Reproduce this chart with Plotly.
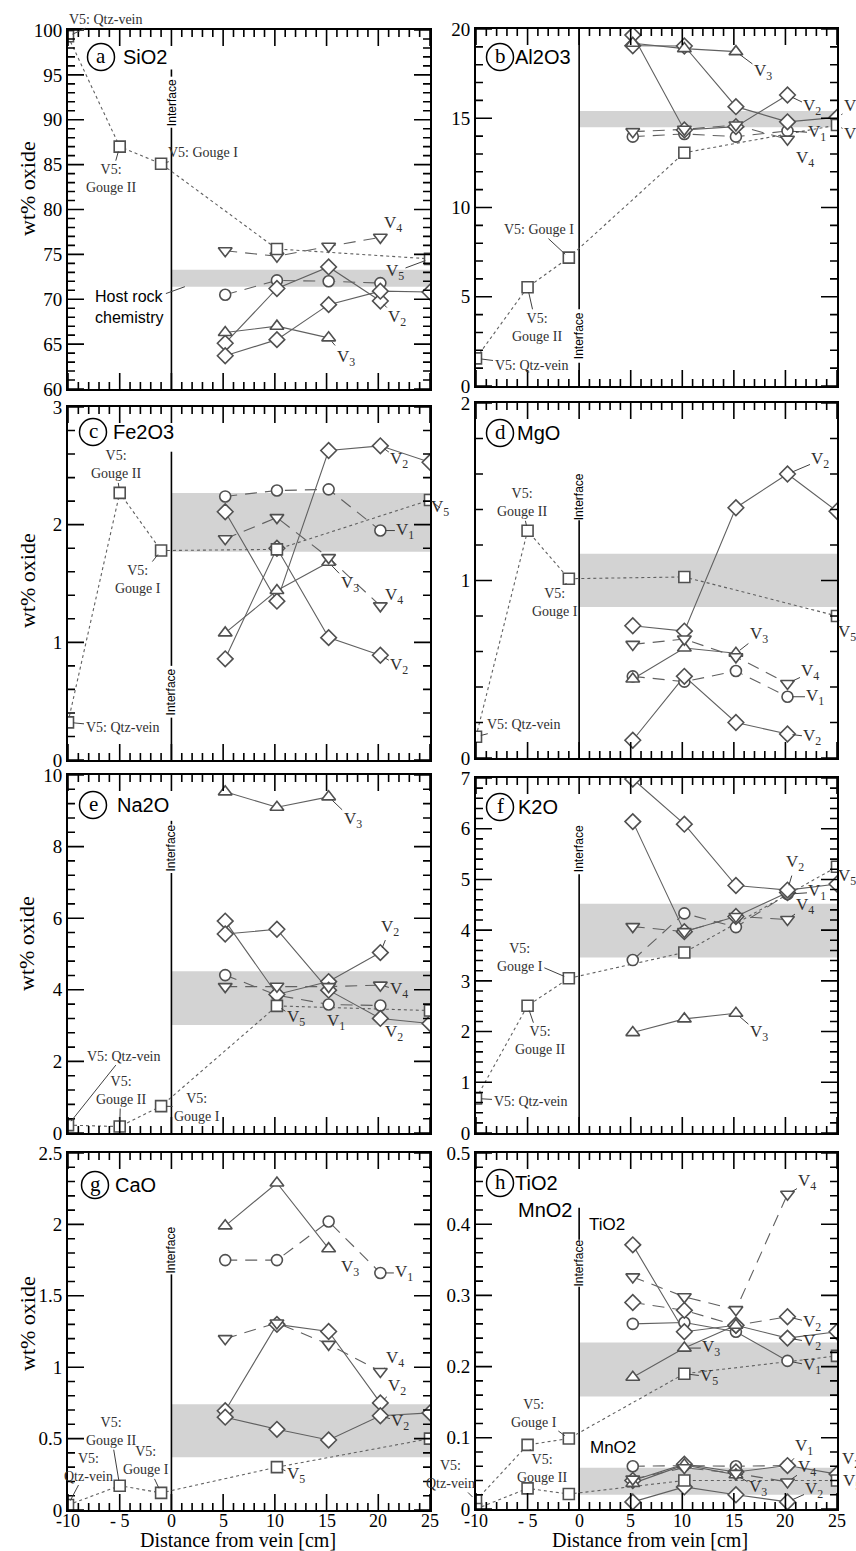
import plotly.graph_objects as go

W, H = 856, 1551

# ---------------- data ----------------
X_WALL = [5.2, 10.2, 15.2, 20.2]
X_WALL_25 = [5.2, 10.2, 15.2, 20.2, 25.0]
X_V3 = [5.2, 10.2, 15.2]
X_V5 = [-10.0, -5.0, -1.0, 10.2, 25.0]
X_TICKS = [-10, -5, 0, 5, 10, 15, 20, 25]
X_TICK_TEXT = ["-10", "- 5", "0", "5", "10", "15", "20", "25"]

# (a) SiO2
SIO2_V1 = [70.5, 72.1, 72.0, 71.8]
SIO2_V2A = [65.1, 71.2, 73.6, 69.8]
SIO2_V2B = [63.7, 65.5, 69.4, 70.9, 70.8]
SIO2_V3 = [66.3, 67.0, 65.7]
SIO2_V4 = [75.4, 74.8, 75.9, 76.9]
SIO2_V5 = [99.3, 87.0, 85.1, 75.6, 74.5]
SIO2_HOST = [71.4, 73.3]

# (b) Al2O3
AL2O3_V1 = [13.97, 14.12, 13.97, 14.29]
AL2O3_V2A = [19.66, 14.34, 14.53, 16.3]
AL2O3_V2B = [19.06, 19.05, 15.65, 14.8, 15.05]
AL2O3_V3 = [19.2, 18.9, 18.73]
AL2O3_V4 = [14.25, 14.38, 14.62, 13.82]
AL2O3_V5 = [1.55, 5.53, 7.19, 13.07, 14.62]
AL2O3_HOST = [14.5, 15.4]

# (c) Fe2O3
FE2O3_V1 = [2.24, 2.29, 2.30, 1.95]
FE2O3_V2A = [0.86, 1.80, 1.04, 0.89]
FE2O3_V2B = [2.11, 1.35, 2.63, 2.67, 2.53]
FE2O3_V3 = [1.08, 1.44, 1.68]
FE2O3_V4 = [1.88, 2.06, 1.72, 1.31]
FE2O3_V5 = [0.32, 2.27, 1.78, 1.79, 2.21]
FE2O3_HOST = [1.77, 2.27]

# (d) MgO
MGO_V1 = [0.46, 0.43, 0.49, 0.345]
MGO_V2A = [0.10, 0.46, 0.20, 0.135]
MGO_V2B = [0.745, 0.715, 1.41, 1.60, 1.39]
MGO_V3 = [0.445, 0.62, 0.59]
MGO_V4 = [0.64, 0.67, 0.57, 0.42]
MGO_V5 = [0.12, 1.28, 1.01, 1.02, 0.80]
MGO_HOST = [0.85, 1.15]

# (e) Na2O
NA2O_V1 = [4.41, 3.85, 3.59, 3.56]
NA2O_V2A = [5.92, 3.87, 4.23, 5.04]
NA2O_V2B = [5.56, 5.69, 3.99, 3.20, 3.06]
NA2O_V3 = [9.53, 9.10, 9.39]
NA2O_V4 = [4.09, 4.10, 4.09, 4.13]
NA2O_V5 = [0.22, 0.18, 0.75, 3.55, 3.42]
NA2O_HOST = [3.02, 4.52]

# (f) K2O
K2O_V1 = [3.41, 4.33, 4.06, 4.71]
K2O_V2A = [6.14, 3.97, 4.27, 4.74]
K2O_V2B = [6.98, 6.09, 4.88, 4.79, 4.91]
K2O_V3 = [1.98, 2.25, 2.36]
K2O_V4 = [4.07, 3.97, 4.27, 4.21]
K2O_V5 = [0.68, 2.51, 3.05, 3.56, 5.25]
K2O_HOST = [3.46, 4.52]

# (g) CaO
CAO_V1 = [1.75, 1.75, 2.02, 1.66]
CAO_V2A = [0.695, 1.30, 1.25, 0.75]
CAO_V2B = [0.65, 0.565, 0.49, 0.66, 0.68]
CAO_V3 = [1.99, 2.29, 1.83]
CAO_V4 = [1.20, 1.31, 1.16, 0.97]
CAO_V5 = [0.035, 0.17, 0.12, 0.30, 0.50]
CAO_HOST = [0.37, 0.74]

# (h) TiO2 and MnO2
TIO2_V1 = [0.26, 0.262, 0.249, 0.208]
TIO2_V2A = [0.29, 0.279, 0.258, 0.27]
TIO2_V2B = [0.371, 0.249, 0.258, 0.24, 0.249]
TIO2_V3 = [0.185, 0.226, 0.258]
TIO2_V4 = [0.326, 0.298, 0.280, 0.442]
TIO2_V5 = [0.012, 0.09, 0.099, 0.19, 0.215]
TIO2_HOST = [0.158, 0.234]

MNO2_V1 = [0.060, 0.061, 0.060, 0.061]
MNO2_V2A = [0.010, 0.031, 0.020, 0.010]
MNO2_V2B = [0.040, 0.063, 0.052, 0.061, 0.049]
MNO2_V3 = [0.036, 0.062, 0.048]
MNO2_V4 = [0.042, 0.058, 0.050, 0.038]
MNO2_V5 = [0.0, 0.029, 0.021, 0.040, 0.040]
MNO2_HOST = [0.020, 0.058]

# ---------------- styling ----------------
MK = "#505050"
LN = "#606060"
TXT = "#303030"
SERIF = "Liberation Serif"
SANS = "Liberation Sans"
MAJOR_LEN, MINOR_LEN, TICK_W = 16, 7, 1.6

STYLE = {
    "V1": dict(symbol="circle", size=11, dash="12px,8px"),
    "V2": dict(symbol="diamond", size=12, dash="solid"),
    "V3": dict(symbol="triangle-up", size=12, dash="solid"),
    "V4": dict(symbol="triangle-down", size=12, dash="12px,8px"),
    "V5": dict(symbol="square", size=11, dash="3px,3px"),
}


def xs_for(key):
    k = key.lstrip("m")
    if k == "V2b":
        return X_WALL_25
    if k == "V3":
        return X_V3
    if k == "V5":
        return X_V5
    return X_WALL


def V(n):
    return f"V<sub>{n}</sub>"


PANELS = [
    dict(tag="a", title="SiO2", col=0, top=30, bottom=389, yr=[60, 100], dt=5, mn=1,
         series=dict(V1=SIO2_V1, V2a=SIO2_V2A, V2b=SIO2_V2B, V3=SIO2_V3, V4=SIO2_V4, V5=SIO2_V5),
         bands=[SIO2_HOST], iface=[(60, 89.1), (94.8, 95.6)], itext=91.9, badge=(33, 27, 22),
         labels=[("V5", 0, "V5: Qtz-vein", 37, -17), ("V5", 1, "V5:<br>Gouge II", -9, 32),
                 ("V5", 2, "V5: Gouge I", 42, -11), ("V4", 3, V(4), 13, -13),
                 ("V5", 4, V(5), -35, 13), ("V2a", 3, V(2), 17, 17), ("V3", 2, V(3), 17, 20)]),
    dict(tag="b", title="Al2O3", col=1, top=29, bottom=386, yr=[0, 20], dt=5, mn=1,
         series=dict(V1=AL2O3_V1, V2a=AL2O3_V2A, V2b=AL2O3_V2B, V3=AL2O3_V3, V4=AL2O3_V4, V5=AL2O3_V5),
         bands=[AL2O3_HOST], iface=[(4.3, 20), (0, 1.3)], itext=2.8, badge=(24, 28, 15),
         labels=[("V3", 2, V(3), 27, 20), ("V2a", 3, V(2), 25, 12), ("V2b", 4, V(2), 16, -10),
                 ("V5", 4, V(5), 16, 10), ("V1", 3, V(1), 30, 2), ("V4", 3, V(4), 18, 20),
                 ("V5", 2, "V5: Gouge I", -30, -28), ("V5", 1, "V5:<br>Gouge II", 9, 40),
                 ("V5", 0, "V5: Qtz-vein", 55, 7)]),
    dict(tag="c", title="Fe2O3", col=0, top=407, bottom=760, yr=[0, 3], dt=1, mn=0.2,
         series=dict(V1=FE2O3_V1, V2a=FE2O3_V2A, V2b=FE2O3_V2B, V3=FE2O3_V3, V4=FE2O3_V4, V5=FE2O3_V5),
         bands=[FE2O3_HOST], iface=[(0.8, 2.62), (0, 0.36)], itext=0.578, badge=(25, 25, 20),
         labels=[("V5", 1, "V5:<br>Gouge II", -4, -28), ("V5", 2, "V5:<br>Gouge I", -23, 29),
                 ("V5", 0, "V5: Qtz-vein", 54, 5), ("V2b", 3, V(2), 19, 14), ("V1", 3, V(1), 25, 0),
                 ("V3", 2, V(3), 21, 22), ("V4", 3, V(4), 14, -10), ("V2a", 3, V(2), 19, 11),
                 ("V5", 4, V(5), 10, 8)]),
    dict(tag="d", title="MgO", col=1, top=403, bottom=758, yr=[0, 2], dt=1, mn=0.2,
         series=dict(V1=MGO_V1, V2a=MGO_V2A, V2b=MGO_V2B, V3=MGO_V3, V4=MGO_V4, V5=MGO_V5),
         bands=[MGO_HOST], iface=[(0, 1.34)], itext=1.47, badge=(24, 30, 17),
         labels=[("V5", 1, "V5:<br>Gouge II", -6, -28), ("V5", 2, "V5:<br>Gouge I", -14, 24),
                 ("V5", 0, "V5: Qtz-vein", 47, -12), ("V2b", 3, V(2), 33, -14), ("V5", 4, V(5), 10, 17),
                 ("V3", 2, V(3), 23, -18), ("V4", 3, V(4), 23, -11), ("V1", 3, V(1), 28, 0),
                 ("V2a", 3, V(2), 25, 3)]),
    dict(tag="e", title="Na2O", col=0, top=775, bottom=1133, yr=[0, 10], dt=2, mn=0.4,
         series=dict(V1=NA2O_V1, V2a=NA2O_V2A, V2b=NA2O_V2B, V3=NA2O_V3, V4=NA2O_V4, V5=NA2O_V5),
         bands=[NA2O_HOST], iface=[(0, 7.26), (8.62, 8.72)], itext=7.96, badge=(25, 30, 24),
         labels=[("V3", 2, V(3), 24, 23), ("V2a", 3, V(2), 10, -25), ("V4", 3, V(4), 19, 5),
                 ("V5", 3, V(5), 19, 12), ("V1", 2, V(1), 7, 18), ("V2b", 3, V(2), 14, 15),
                 ("V5", 0, "V5: Qtz-vein", 55, -69), ("V5", 1, "V5:<br>Gouge II", 1, -36),
                 ("V5", 2, "V5:<br>Gouge I", 36, 1)]),
    dict(tag="f", title="K2O", col=1, top=778, bottom=1133, yr=[0, 7], dt=1, mn=0.2,
         series=dict(V1=K2O_V1, V2a=K2O_V2A, V2b=K2O_V2B, V3=K2O_V3, V4=K2O_V4, V5=K2O_V5),
         bands=[K2O_HOST], iface=[(0, 5.1)], itext=5.6, badge=(24, 29, 18),
         labels=[("V5", 2, "V5:<br>Gouge I", -49, -21), ("V5", 1, "V5:<br>Gouge II", 12, 35),
                 ("V5", 0, "V5: Qtz-vein", 54, 3), ("V2b", 3, V(2), 8, -27), ("V5", 4, V(5), 10, 10),
                 ("V1", 3, V(1), 30, -2), ("V4", 3, V(4), 18, -13), ("V3", 2, V(3), 23, 20)]),
    dict(tag="g", title="CaO", col=0, top=1153, bottom=1510, yr=[0, 2.5], dt=0.5, mn=0.1,
         series=dict(V1=CAO_V1, V2a=CAO_V2A, V2b=CAO_V2B, V3=CAO_V3, V4=CAO_V4, V5=CAO_V5),
         bands=[CAO_HOST], iface=[(0, 1.65)], itext=1.82, badge=(27, 32, 20),
         labels=[("V3", 2, V(3), 21, 19), ("V1", 3, V(1), 24, 0), ("V4", 3, V(4), 15, -12),
                 ("V2a", 3, V(2), 17, -16), ("V2b", 3, V(2), 20, 6), ("V5", 3, V(5), 19, 8),
                 ("V5", 1, "V5:<br>Gouge II", -9, -54), ("V5", 0, "V5:<br>Qtz-vein", 20, -38),
                 ("V5", 2, "V5:<br>Gouge I", -15, -32)]),
    dict(tag="h", title="TiO2", col=1, top=1153, bottom=1509, yr=[0, 0.5], dt=0.1, mn=0.02,
         series=dict(V1=TIO2_V1, V2a=TIO2_V2A, V2b=TIO2_V2B, V3=TIO2_V3, V4=TIO2_V4, V5=TIO2_V5,
                     mV1=MNO2_V1, mV2a=MNO2_V2A, mV2b=MNO2_V2B, mV3=MNO2_V3, mV4=MNO2_V4, mV5=MNO2_V5),
         dash_over={"V1": "solid", "V2a": "12px,8px"},
         bands=[TIO2_HOST, MNO2_HOST], iface=[(0, 0.312), (0.378, 0.423)], itext=0.345,
         badge=(24, 30, 15),
         labels=[("V4", 3, V(4), 20, -12), ("V2a", 3, V(2), 25, 6), ("V2b", 3, V(2), 25, 4),
                 ("V1", 3, V(1), 25, 5), ("V3", 1, V(3), 27, 0), ("V5", 3, V(5), 25, 3),
                 ("V5", 2, "V5:<br>Gouge I", -35, -25), ("V5", 1, "V5:<br>Gouge II", 14, 24),
                 ("V5", 0, "V5:<br>Qtz-vein", -26, -26), ("mV1", 3, V(1), 17, -19),
                 ("mV4", 3, V(4), 20, -14), ("mV3", 2, V(3), 22, 13), ("mV2a", 3, V(2), 27, -12),
                 ("mV2b", 4, V(2), 14, -14), ("mV5", 4, V(5), 15, 1)]),
]

COL_X = [(68, 430), (476, 837)]
X_RANGE = [-10, 25]

fig = go.Figure()
layout = dict(width=W, height=H, margin=dict(l=0, r=0, t=0, b=0, autoexpand=False), showlegend=False,
              autosize=False, plot_bgcolor="white", paper_bgcolor="white", shapes=[], annotations=[])


def axis_common(size):
    return dict(ticks="", showline=True, linecolor="black", linewidth=1.7, mirror=True,
                showgrid=False, zeroline=False,
                tickfont=dict(family=SERIF, size=size, color="black"))


def tick_shapes(xa, ya, yr, dt, mn, pw, ph):
    """Inside major/minor ticks on all four sides, drawn as path shapes."""
    out = []
    bot, top = [], []
    for v in range(X_RANGE[0], X_RANGE[1] + 1):
        f = (MAJOR_LEN if v % 5 == 0 else MINOR_LEN) / ph
        bot.append(f"M{v},0L{v},{f:.5f}")
        top.append(f"M{v},1L{v},{1 - f:.5f}")
    for path in (bot, top):
        out.append(dict(type="path", xref=xa, yref=ya + " domain", path="".join(path),
                        line=dict(color="black", width=TICK_W)))
    left, right = [], []
    n = int(round((yr[1] - yr[0]) / mn))
    for k in range(n + 1):
        v = yr[0] + k * mn
        r = v / dt
        major = abs(r - round(r)) < 1e-6
        f = (MAJOR_LEN if major else MINOR_LEN) / pw
        left.append(f"M0,{v:.5f}L{f:.5f},{v:.5f}")
        right.append(f"M1,{v:.5f}L{1 - f:.5f},{v:.5f}")
    for path in (left, right):
        out.append(dict(type="path", xref=xa + " domain", yref=ya, path="".join(path),
                        line=dict(color="black", width=TICK_W)))
    return out


for i, p in enumerate(PANELS):
    sfx = "" if i == 0 else str(i + 1)
    xa, ya = "x" + sfx, "y" + sfx
    x0p, x1p = COL_X[p["col"]]
    pw = x1p - x0p
    ph = p["bottom"] - p["top"]
    bottom_row = p["tag"] in ("g", "h")

    xd = axis_common(18)
    xd.update(domain=[x0p / W, x1p / W], anchor=ya, range=X_RANGE,
              tickmode="array", tickvals=X_TICKS, ticktext=X_TICK_TEXT, showticklabels=False)
    yd = axis_common(19)
    yd.update(domain=[1 - p["bottom"] / H, 1 - p["top"] / H], anchor=xa, range=p["yr"],
              tickmode="linear", tick0=0, dtick=p["dt"])
    layout["xaxis" + sfx] = xd
    layout["yaxis" + sfx] = yd

    if bottom_row:
        for v, t in zip(X_TICKS, X_TICK_TEXT):
            layout["annotations"].append(dict(xref=xa, yref="paper", x=v, y=1 - 1521 / H, text=t,
                                              showarrow=False, xanchor="center", yanchor="middle",
                                              font=dict(family=SERIF, size=18, color="black")))

    for b in p["bands"]:
        layout["shapes"].append(dict(type="rect", xref=xa, yref=ya, x0=0, x1=25, y0=b[0], y1=b[1],
                                     fillcolor="#d3d3d3", line=dict(width=0), layer="below"))
    for (s0, s1) in p["iface"]:
        layout["shapes"].append(dict(type="line", xref=xa, yref=ya, x0=0, x1=0, y0=s0, y1=s1,
                                     line=dict(color="black", width=1.6), layer="below"))
    layout["annotations"].append(dict(xref=xa, yref=ya, x=0, y=p["itext"], text="Interface",
                                      textangle=-90, showarrow=False, xanchor="center", yanchor="middle",
                                      font=dict(family=SANS, size=12, color="black")))
    layout["shapes"].extend(tick_shapes(xa, ya, p["yr"], p["dt"], p["mn"], pw, ph))

    dx, dy, tshift = p["badge"]
    fx, fy = dx / pw, 1 - dy / ph
    layout["shapes"].append(dict(type="circle", xref=xa + " domain", yref=ya + " domain",
                                 xsizemode="pixel", ysizemode="pixel", xanchor=fx, yanchor=fy,
                                 x0=-13.5, x1=13.5, y0=-13.5, y1=13.5,
                                 line=dict(color="black", width=1.5)))
    layout["annotations"].append(dict(xref=xa + " domain", yref=ya + " domain", x=fx, y=fy,
                                      text=p["tag"], showarrow=False, xanchor="center",
                                      yanchor="middle", yshift=1,
                                      font=dict(family=SERIF, size=21, color="black")))
    layout["annotations"].append(dict(xref=xa + " domain", yref=ya + " domain", x=fx, y=fy,
                                      xanchor="left", yanchor="middle", xshift=tshift - 2,
                                      text=p["title"], showarrow=False,
                                      font=dict(family=SANS, size=20, color="black")))

    over = p.get("dash_over", {})
    for mode in ("lines", "markers"):
        for key, ys in p["series"].items():
            base = key.lstrip("m")
            st = STYLE[base[:2]]
            dash = over.get(key, st["dash"])
            tr = dict(x=xs_for(key)[:len(ys)], y=ys, xaxis=xa, yaxis=ya, mode=mode, hoverinfo="skip")
            if mode == "lines":
                tr["line"] = dict(color=LN, width=1.1, dash=dash)
            else:
                tr["marker"] = dict(symbol=st["symbol"], size=st["size"], color="white",
                                    line=dict(color=MK, width=1.6))
            fig.add_trace(go.Scatter(**tr))

    for (key, idx, text, ax, ay) in p["labels"]:
        xs = xs_for(key)
        ys = p["series"][key]
        small = not text.startswith("V<sub>")
        layout["annotations"].append(dict(
            xref=xa, yref=ya, x=xs[idx], y=ys[idx], ax=ax, ay=ay, text=text,
            showarrow=True, arrowhead=0, arrowwidth=1, arrowcolor="#404040", standoff=5,
            xanchor="center", yanchor="middle",
            font=dict(family=SERIF, size=14 if small else 17, color=TXT), align="center"))

layout["annotations"].append(dict(xref="x", yref="y", x=1.3, y=SIO2_HOST[0], ax=-55, ay=20,
                                  text="Host rock<br>chemistry", align="left", showarrow=True,
                                  xanchor="center", yanchor="middle",
                                  arrowhead=0, arrowwidth=1, arrowcolor="#404040", standoff=0,
                                  font=dict(family=SANS, size=16, color="black")))
layout["annotations"].append(dict(xref="x8 domain", yref="y8 domain", x=40 / 361, y=1 - 57 / 356,
                                  xanchor="left", yanchor="middle", text="MnO2", showarrow=False,
                                  font=dict(family=SANS, size=20, color="black")))
layout["annotations"].append(dict(xref="x8", yref="y8", x=0.8, y=0.40, xanchor="left",
                                  yanchor="middle", text="TiO2", showarrow=False,
                                  font=dict(family=SANS, size=17, color="black")))
layout["annotations"].append(dict(xref="x8", yref="y8", x=0.9, y=0.086, xanchor="left",
                                  yanchor="middle", text="MnO2", showarrow=False,
                                  font=dict(family=SANS, size=17, color="black")))

for ypx in (188, 580, 943, 1323):
    layout["annotations"].append(dict(xref="paper", yref="paper", x=27 / W, y=1 - ypx / H,
                                      xanchor="center", yanchor="middle",
                                      text="wt% oxide", textangle=-90, showarrow=False,
                                      font=dict(family=SERIF, size=22, color="black")))
for xpx in (238, 650):
    layout["annotations"].append(dict(xref="paper", yref="paper", x=xpx / W, y=1 - 1540 / H,
                                      xanchor="center", yanchor="middle",
                                      text="Distance from vein [cm]", showarrow=False,
                                      font=dict(family=SERIF, size=20, color="black")))

fig.update_layout(**layout)
fig.write_html("out.html",
               post_script="document.body.style.margin='0px';document.body.style.padding='0px';")
